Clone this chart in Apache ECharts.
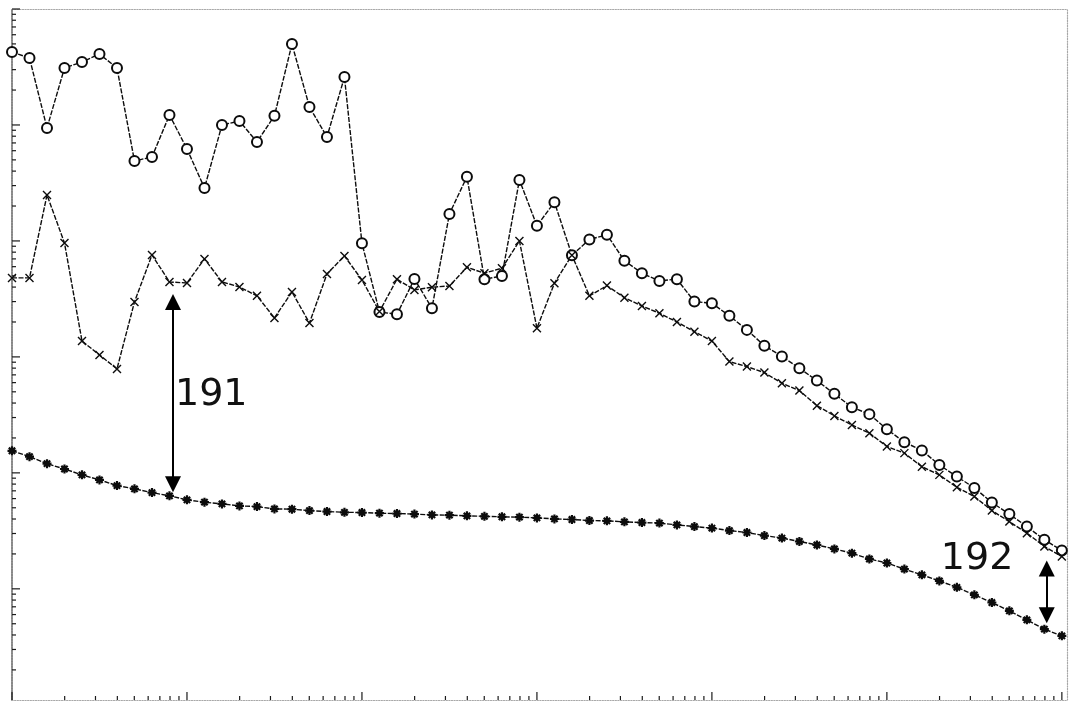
<!DOCTYPE html>
<html>
<head>
<meta charset="utf-8">
<script src="https://cdn.jsdelivr.net/npm/echarts@6/dist/echarts.min.js"></script>
<style>
  html, body { margin: 0; padding: 0; background: #fff; }
  #chart { width: 1070px; height: 705px; }
</style>
</head>
<body>
<div id="chart"></div>
<script>
// Frequency grid: ten log-spaced points per decade, 1 .. 1e6
const decadeSteps = [1, 1.259, 1.585, 1.995, 2.512, 3.162, 3.981, 5.012, 6.310, 7.943];
const decades = [1, 10, 100, 1e3, 1e4, 1e5];
const freqs = [];
decades.forEach(d => decadeSteps.forEach(m => freqs.push(+(m * d).toPrecision(4))));
freqs.push(1e6);

// Measured curve (open circles)
const circleValues = [
  42600, 37800, 9420, 31000, 34900, 40900, 31000, 4890, 5300, 12200,
  6210, 2860, 10000, 10800, 7140, 12000, 49900, 14300, 7880, 25900,
  955, 244, 233, 470, 263, 1710, 3580, 468, 499, 3360,
  1350, 2160, 753, 1030, 1130, 676, 527, 452, 468, 300,
  290, 226, 171, 125, 101, 79.9, 62.5, 48.0, 36.8, 32.1,
  23.8, 18.4, 15.6, 11.7, 9.29, 7.42, 5.55, 4.41, 3.44, 2.65,
  2.14
];

// Measured curve (crosses)
const crossValues = [
  480, 480, 2490, 961, 137, 104, 78.8, 298, 757, 443,
  434, 700, 443, 401, 336, 217, 363, 196, 519, 742,
  461, 246, 468, 378, 399, 409, 593, 527, 582, 1000,
  177, 432, 753, 336, 412, 324, 275, 238, 200, 165,
  137, 91.1, 82.5, 73.2, 59.3, 51.2, 38.0, 31.0, 25.9, 22.0,
  16.9, 14.8, 11.3, 9.61, 7.50, 6.25, 4.73, 3.80, 3.02, 2.32,
  1.90
];

// Reference curve (asterisks)
const starValues = [
  15.5, 13.8, 12.0, 10.8, 9.61, 8.70, 7.77, 7.28, 6.76, 6.34,
  5.85, 5.59, 5.40, 5.19, 5.12, 4.89, 4.86, 4.73, 4.64, 4.57,
  4.55, 4.49, 4.46, 4.41, 4.34, 4.32, 4.26, 4.22, 4.18, 4.15,
  4.09, 4.01, 3.96, 3.88, 3.86, 3.78, 3.73, 3.69, 3.56, 3.44,
  3.34, 3.18, 3.06, 2.88, 2.74, 2.56, 2.39, 2.21, 2.03, 1.81,
  1.67, 1.48, 1.32, 1.17, 1.03, 0.888, 0.762, 0.646, 0.540, 0.449,
  0.393
];

// Axis ranges and tick marks
const xMin = 1, xMax = 1.07e6;
const yMin = 0.11, yMax = 1e5;
const xMajorTicks = [1, 10, 100, 1e3, 1e4, 1e5, 1e6];
const yMajorTicks = [0.1, 1, 10, 100, 1e3, 1e4, 1e5];
const minorSteps = [2, 3, 4, 5, 6, 7, 8, 9];

// Gap annotations between curves: arrow x, arrow ends, label text and anchor
const gap191 = { x: 8.32, top: 298, bottom: 7.96, text: '191', tx: 8.54, ty: 47.0 };
const gap192 = { x: 8.2e5, top: 1.50, bottom: 0.591, text: '192', tx: 2.035e5, ty: 1.81 };

const MAJOR_LEN = 8, MINOR_LEN = 4;
const xTickData = [], yTickData = [];
xMajorTicks.forEach(v => {
  if (v >= xMin && v <= xMax) xTickData.push([v, yMin, MAJOR_LEN]);
  minorSteps.forEach(m => { const t = v * m; if (t > xMin && t < xMax) xTickData.push([t, yMin, MINOR_LEN]); });
});
yMajorTicks.forEach(v => {
  if (v >= yMin && v <= yMax) yTickData.push([xMin, v, MAJOR_LEN]);
  minorSteps.forEach(m => { const t = v * m; if (t > yMin && t < yMax) yTickData.push([xMin, t, MINOR_LEN]); });
});

const ink = '#0c0c0c';
const frameLine = { show: true, lineStyle: { color: '#a8a8a8', width: 1.2, type: [1.2, 1.4] } };
const leftLine = { show: true, lineStyle: { color: '#7a7a7a', width: 1.8, type: [1.5, 1.2] } };
const noAxisExtras = { axisTick: { show: false }, axisLabel: { show: false }, splitLine: { show: false } };
const seriesLine = { color: ink, width: 1.4, type: [5, 1.5] };

function tickRenderer(horizontalAxis) {
  return function (params, api) {
    const p = api.coord([api.value(0), api.value(1)]);
    const len = api.value(2);
    const shape = horizontalAxis
      ? { x1: p[0], y1: p[1], x2: p[0], y2: p[1] - len }
      : { x1: p[0], y1: p[1], x2: p[0] + len, y2: p[1] };
    return { type: 'line', shape: shape, style: { stroke: '#1a1a1a', lineWidth: 1.2 } };
  };
}

function pairs(values) { return values.map((v, i) => [freqs[i], v]); }

function gapMarkLine(g) {
  return [[{ coord: [g.x, g.top] }, { coord: [g.x, g.bottom] }]];
}
function gapLabel(g) {
  return {
    coord: [g.tx, g.ty], symbol: 'rect', symbolSize: 0,
    label: {
      show: true, formatter: g.text, position: 'right', distance: 0,
      fontFamily: 'DejaVu Sans', fontSize: 38, color: '#111'
    }
  };
}

const chart = echarts.init(document.getElementById('chart'), null, { renderer: 'canvas' });
chart.setOption({
  animation: false,
  backgroundColor: '#fff',
  grid: { left: 12, right: 3, top: 9, bottom: 5 },
  xAxis: [
    Object.assign({ type: 'log', logBase: 10, min: xMin, max: xMax, position: 'bottom', axisLine: frameLine }, noAxisExtras),
    Object.assign({ type: 'log', logBase: 10, min: xMin, max: xMax, position: 'top', axisLine: frameLine }, noAxisExtras)
  ],
  yAxis: [
    Object.assign({ type: 'log', logBase: 10, min: yMin, max: yMax, position: 'left', axisLine: leftLine }, noAxisExtras),
    Object.assign({ type: 'log', logBase: 10, min: yMin, max: yMax, position: 'right', axisLine: frameLine }, noAxisExtras)
  ],
  series: [
    {
      type: 'custom', silent: true, renderItem: tickRenderer(true), data: xTickData, z: 1
    },
    {
      type: 'custom', silent: true, renderItem: tickRenderer(false), data: yTickData, z: 1
    },
    {
      name: 'circles', type: 'line', data: pairs(circleValues), silent: true,
      symbol: 'emptyCircle', symbolSize: 10,
      lineStyle: seriesLine,
      itemStyle: { color: ink, borderColor: ink, borderWidth: 1.4 },
      z: 3
    },
    {
      name: 'crosses', type: 'line', data: pairs(crossValues), silent: true,
      symbol: 'path://M0,0L10,10M10,0L0,10', symbolSize: 8,
      lineStyle: seriesLine,
      itemStyle: { color: 'none', borderColor: ink, borderWidth: 1.4 },
      z: 3
    },
    {
      name: 'asterisks', type: 'line', data: pairs(starValues), silent: true,
      symbol: 'path://M5,0L5,10M0,5L10,5M1.5,1.5L8.5,8.5M8.5,1.5L1.5,8.5', symbolSize: 9,
      lineStyle: seriesLine,
      itemStyle: { color: 'none', borderColor: ink, borderWidth: 2.2 },
      z: 3,
      markLine: {
        silent: true, animation: false,
        symbol: ['triangle', 'triangle'], symbolSize: [16, 16],
        label: { show: false },
        lineStyle: { color: '#000', width: 2, type: 'solid' },
        data: gapMarkLine(gap191).concat(gapMarkLine(gap192))
      },
      markPoint: {
        silent: true, animation: false,
        data: [gapLabel(gap191), gapLabel(gap192)]
      }
    }
  ]
});
</script>
</body>
</html>
